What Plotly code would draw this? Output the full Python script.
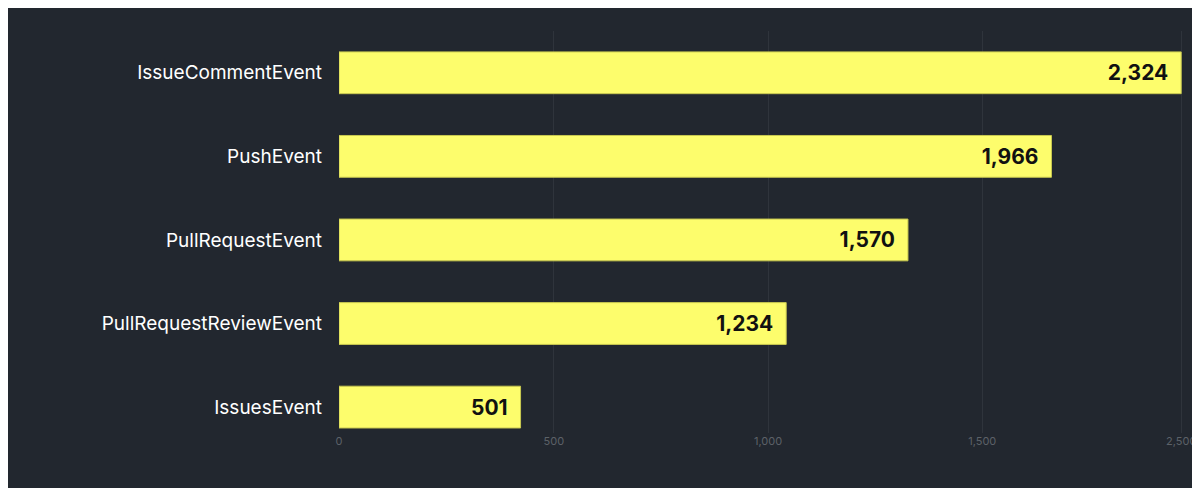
import plotly.graph_objects as go

categories = ["IssueCommentEvent", "PushEvent", "PullRequestEvent", "PullRequestReviewEvent", "IssuesEvent"]
values = [2324, 1966, 1570, 1234, 501]
tick_vals = [0, 593, 1184, 1775, 2324]
tick_text = ["0", "500", "1,000", "1,500", "2,500"]

fig = go.Figure(go.Bar(
    x=values, y=categories, orientation="h",
    marker=dict(color="#fdfd6c", line=dict(color="#c8c850", width=1)),
    width=0.5,
    text=[f"{v:,}  " for v in values], textposition="inside", insidetextanchor="end",
    textfont=dict(family="Inter", size=21, color="#111111", weight="bold"),
    cliponaxis=False,
))
fig.update_layout(
    width=1200, height=488,
    paper_bgcolor="#22272f", plot_bgcolor="#22272f",
    margin=dict(l=331, r=17, t=23, b=63),
    showlegend=False,
    xaxis=dict(range=[0, 2340], tickvals=tick_vals, ticktext=tick_text,
               showgrid=True, gridcolor="#2f343c", zeroline=False,
               tickfont=dict(family="Inter", size=11, color="#5c6168")),
    yaxis=dict(range=[4.31, -0.5], showgrid=False, ticksuffix="   ",
               tickfont=dict(family="Inter", size=19, color="#ffffff")),
)
fig.write_html("out.html")
